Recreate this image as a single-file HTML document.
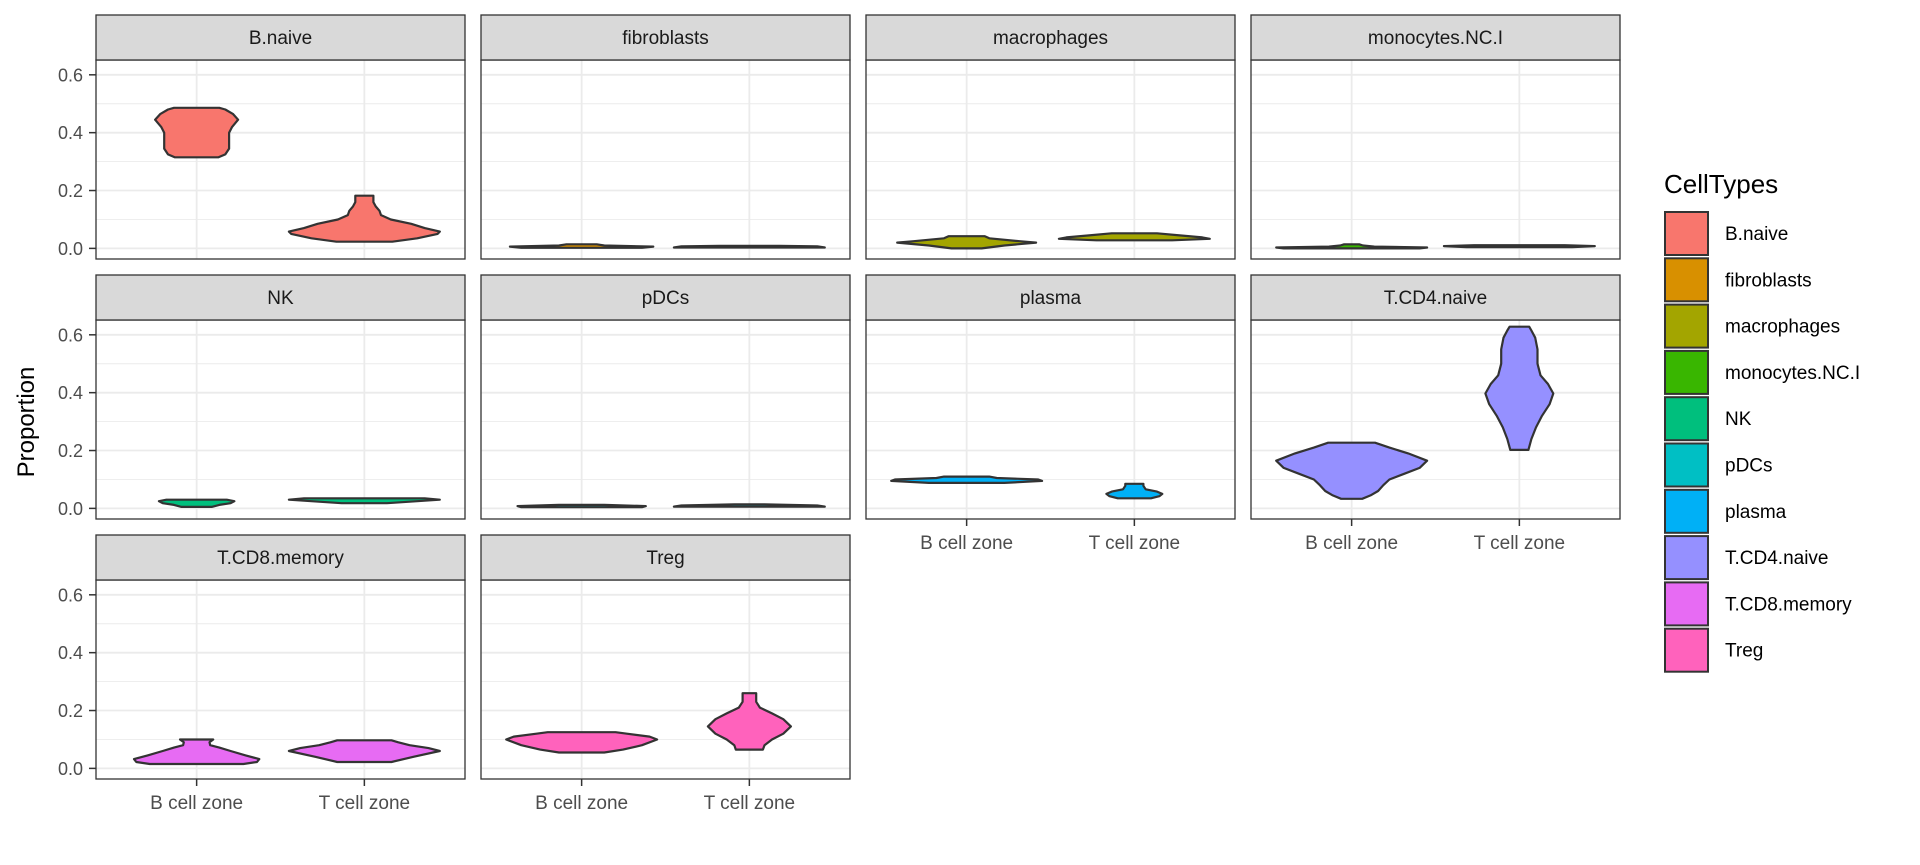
<!DOCTYPE html>
<html><head><meta charset="utf-8">
<style>
html,body{margin:0;padding:0;background:#fff;}
svg{display:block;font-family:"Liberation Sans",sans-serif;}
</style></head>
<body>
<svg id="chart" width="1920" height="865" viewBox="0 0 1920 865">
<text x="0" y="0" transform="translate(34,422) rotate(-90)" text-anchor="middle" font-size="24" fill="#000">Proportion</text>
<g id="panels"></g>
<g id="legend"></g>
</svg>
<script>
const cellTypes = ["B.naive","fibroblasts","macrophages","monocytes.NC.I","NK","pDCs","plasma","T.CD4.naive","T.CD8.memory","Treg"];
const colors = ["#F8766D","#D89000","#A3A500","#39B600","#00BF7D","#00BFC4","#00B0F6","#9590FF","#E76BF3","#FF62BC"];
const zones = ["B cell zone","T cell zone"];
const yTicks = [0,0.2,0.4,0.6];
const yTickLabels = ["0.0","0.2","0.4","0.6"];
const yMinor = [0.1,0.3,0.5];
// violin outlines: [proportion, relative half-width]
const vB = [
 [[0.315,0.29],[0.325,0.38],[0.345,0.43],[0.40,0.43],[0.42,0.47],[0.445,0.55],[0.465,0.48],[0.48,0.38],[0.486,0.3]],
 [[0.002,0.8],[0.006,0.95],[0.01,0.3],[0.014,0.2]],
 [[0.0,0.2],[0.01,0.5],[0.02,0.92],[0.025,0.7],[0.035,0.3],[0.042,0.24]],
 [[0.0,0.9],[0.003,1.0],[0.006,0.3],[0.01,0.15],[0.014,0.1]],
 [[0.005,0.2],[0.012,0.3],[0.018,0.45],[0.025,0.5],[0.03,0.4]],
 [[0.004,0.8],[0.008,0.85],[0.012,0.3]],
 [[0.088,0.5],[0.095,1.0],[0.1,0.95],[0.105,0.4],[0.11,0.3]],
 [[0.033,0.14],[0.045,0.25],[0.06,0.35],[0.08,0.42],[0.1,0.5],[0.12,0.7],[0.14,0.9],[0.165,1.0],[0.19,0.75],[0.21,0.5],[0.227,0.31]],
 [[0.015,0.62],[0.022,0.8],[0.032,0.83],[0.045,0.65],[0.06,0.45],[0.072,0.3],[0.08,0.18],[0.09,0.17],[0.1,0.22]],
 [[0.055,0.3],[0.065,0.55],[0.08,0.8],[0.1,1.0],[0.11,0.9],[0.12,0.6],[0.125,0.45]]
];
const vT = [
 [[0.023,0.37],[0.035,0.7],[0.05,0.97],[0.058,1.0],[0.07,0.8],[0.085,0.62],[0.1,0.35],[0.115,0.22],[0.13,0.2],[0.145,0.15],[0.16,0.12],[0.182,0.12]],
 [[0.003,1.0],[0.007,0.9],[0.009,0.4]],
 [[0.028,0.5],[0.033,1.0],[0.038,0.9],[0.045,0.6],[0.052,0.3]],
 [[0.004,0.7],[0.008,1.0],[0.011,0.6]],
 [[0.018,0.3],[0.025,0.7],[0.03,1.0],[0.035,0.8]],
 [[0.006,1.0],[0.01,0.9],[0.014,0.2]],
 [[0.035,0.22],[0.042,0.33],[0.05,0.37],[0.058,0.3],[0.066,0.15],[0.078,0.12],[0.085,0.12]],
 [[0.202,0.12],[0.24,0.16],[0.28,0.22],[0.32,0.3],[0.36,0.4],[0.397,0.45],[0.43,0.38],[0.46,0.28],[0.5,0.24],[0.55,0.24],[0.59,0.21],[0.615,0.16],[0.628,0.13]],
 [[0.022,0.36],[0.04,0.65],[0.06,1.0],[0.07,0.85],[0.08,0.6],[0.09,0.45],[0.097,0.36]],
 [[0.065,0.18],[0.08,0.2],[0.1,0.3],[0.12,0.45],[0.145,0.55],[0.17,0.45],[0.19,0.3],[0.21,0.14],[0.23,0.09],[0.26,0.09]]
];

const NS="http://www.w3.org/2000/svg";
function mk(tag,attrs,parent){const e=document.createElementNS(NS,tag);for(const k in attrs)e.setAttribute(k,attrs[k]);if(parent)parent.appendChild(e);return e;}
const panelsG=document.getElementById('panels');
const colX0=96, colPitch=385, pW=369;
const rowY0=15, rowPitch=260, stripH=45, plotH=199;
const Y0=-0.0367, Y1=0.6512;
function sliceName(s){return s.toLowerCase().replace(/\./g,'-');}

cellTypes.forEach((ct,i)=>{
  const col=i%4,row=Math.floor(i/4);
  const x0=colX0+col*colPitch, sy=rowY0+row*rowPitch, py=sy+stripH;
  const yS=v=>py+plotH-(v-Y0)/(Y1-Y0)*plotH;
  const xS=u=>x0+(u-0.4)/2.2*pW;
  const g=mk('g',{},panelsG);
  
  
  mk('rect',{x:x0,y:py,width:pW,height:plotH,fill:'#fff'},g);
  yMinor.forEach(v=>mk('line',{x1:x0,x2:x0+pW,y1:yS(v),y2:yS(v),stroke:'#ebebeb','stroke-width':0.9},g));
  yTicks.forEach(v=>{const l=mk('line',{x1:x0,x2:x0+pW,y1:yS(v),y2:yS(v),stroke:'#ebebeb','stroke-width':1.8},g);
    });
  zones.forEach((z,k)=>mk('line',{x1:xS(k+1),x2:xS(k+1),y1:py,y2:py+plotH,stroke:'#ebebeb','stroke-width':1.8},g));
  [vB[i],vT[i]].forEach((pts,k)=>{
    const cx=xS(k+1), hw=0.45*pW/2.2;
    const right=pts.map(p=>[cx+p[1]*hw,yS(p[0])]);
    const left=pts.slice().reverse().map(p=>[cx-p[1]*hw,yS(p[0])]);
    const all=right.concat(left);
    const d='M'+all.map(p=>p[0].toFixed(1)+','+p[1].toFixed(1)).join('L')+'Z';
    const path=mk('path',{d:d,fill:colors[i],stroke:'#333','stroke-width':2.2,'stroke-linejoin':'round'},g);
    
    
  });
  mk('rect',{x:x0,y:py,width:pW,height:plotH,fill:'none',stroke:'#333','stroke-width':1.3},g);
  const strip=mk('rect',{x:x0,y:sy,width:pW,height:stripH,fill:'#d9d9d9',stroke:'#333','stroke-width':1.3},g);
  
  
  const st=mk('text',{x:x0+pW/2,y:sy+29,'text-anchor':'middle','font-size':19,fill:'#1a1a1a'},g);
  st.textContent=ct;
  
  
  if(col===0){
    yTicks.forEach((v,k)=>{
      mk('line',{x1:x0-7,x2:x0,y1:yS(v),y2:yS(v),stroke:'#333','stroke-width':1.5},g);
      const t=mk('text',{x:x0-13,y:yS(v)+6.5,'text-anchor':'end','font-size':18,fill:'#4d4d4d'},g);
      t.textContent=yTickLabels[k];
      
      
    });
  }
  const bottom=(row===2)||(row===1&&col>=2);
  if(bottom){
    zones.forEach((z,k)=>{
      mk('line',{x1:xS(k+1),x2:xS(k+1),y1:py+plotH,y2:py+plotH+7,stroke:'#333','stroke-width':1.5},g);
      const t=mk('text',{x:xS(k+1),y:py+plotH+30,'text-anchor':'middle','font-size':19,fill:'#4d4d4d'},g);
      t.textContent=z;
      
      
    });
  }
});

const lg=document.getElementById('legend');
const lt=mk('text',{x:1664,y:193,'font-size':26,fill:'#000'},lg);
lt.textContent='CellTypes';


cellTypes.forEach((ct,i)=>{
  const y=212+i*46.3;
  const r=mk('rect',{x:1665,y:y,width:43,height:43,fill:colors[i],stroke:'#333','stroke-width':2},lg);
  
  
  const t=mk('text',{x:1725,y:y+28,'font-size':19,fill:'#000'},lg);
  t.textContent=ct;
  
  
});
</script>
</body></html>
